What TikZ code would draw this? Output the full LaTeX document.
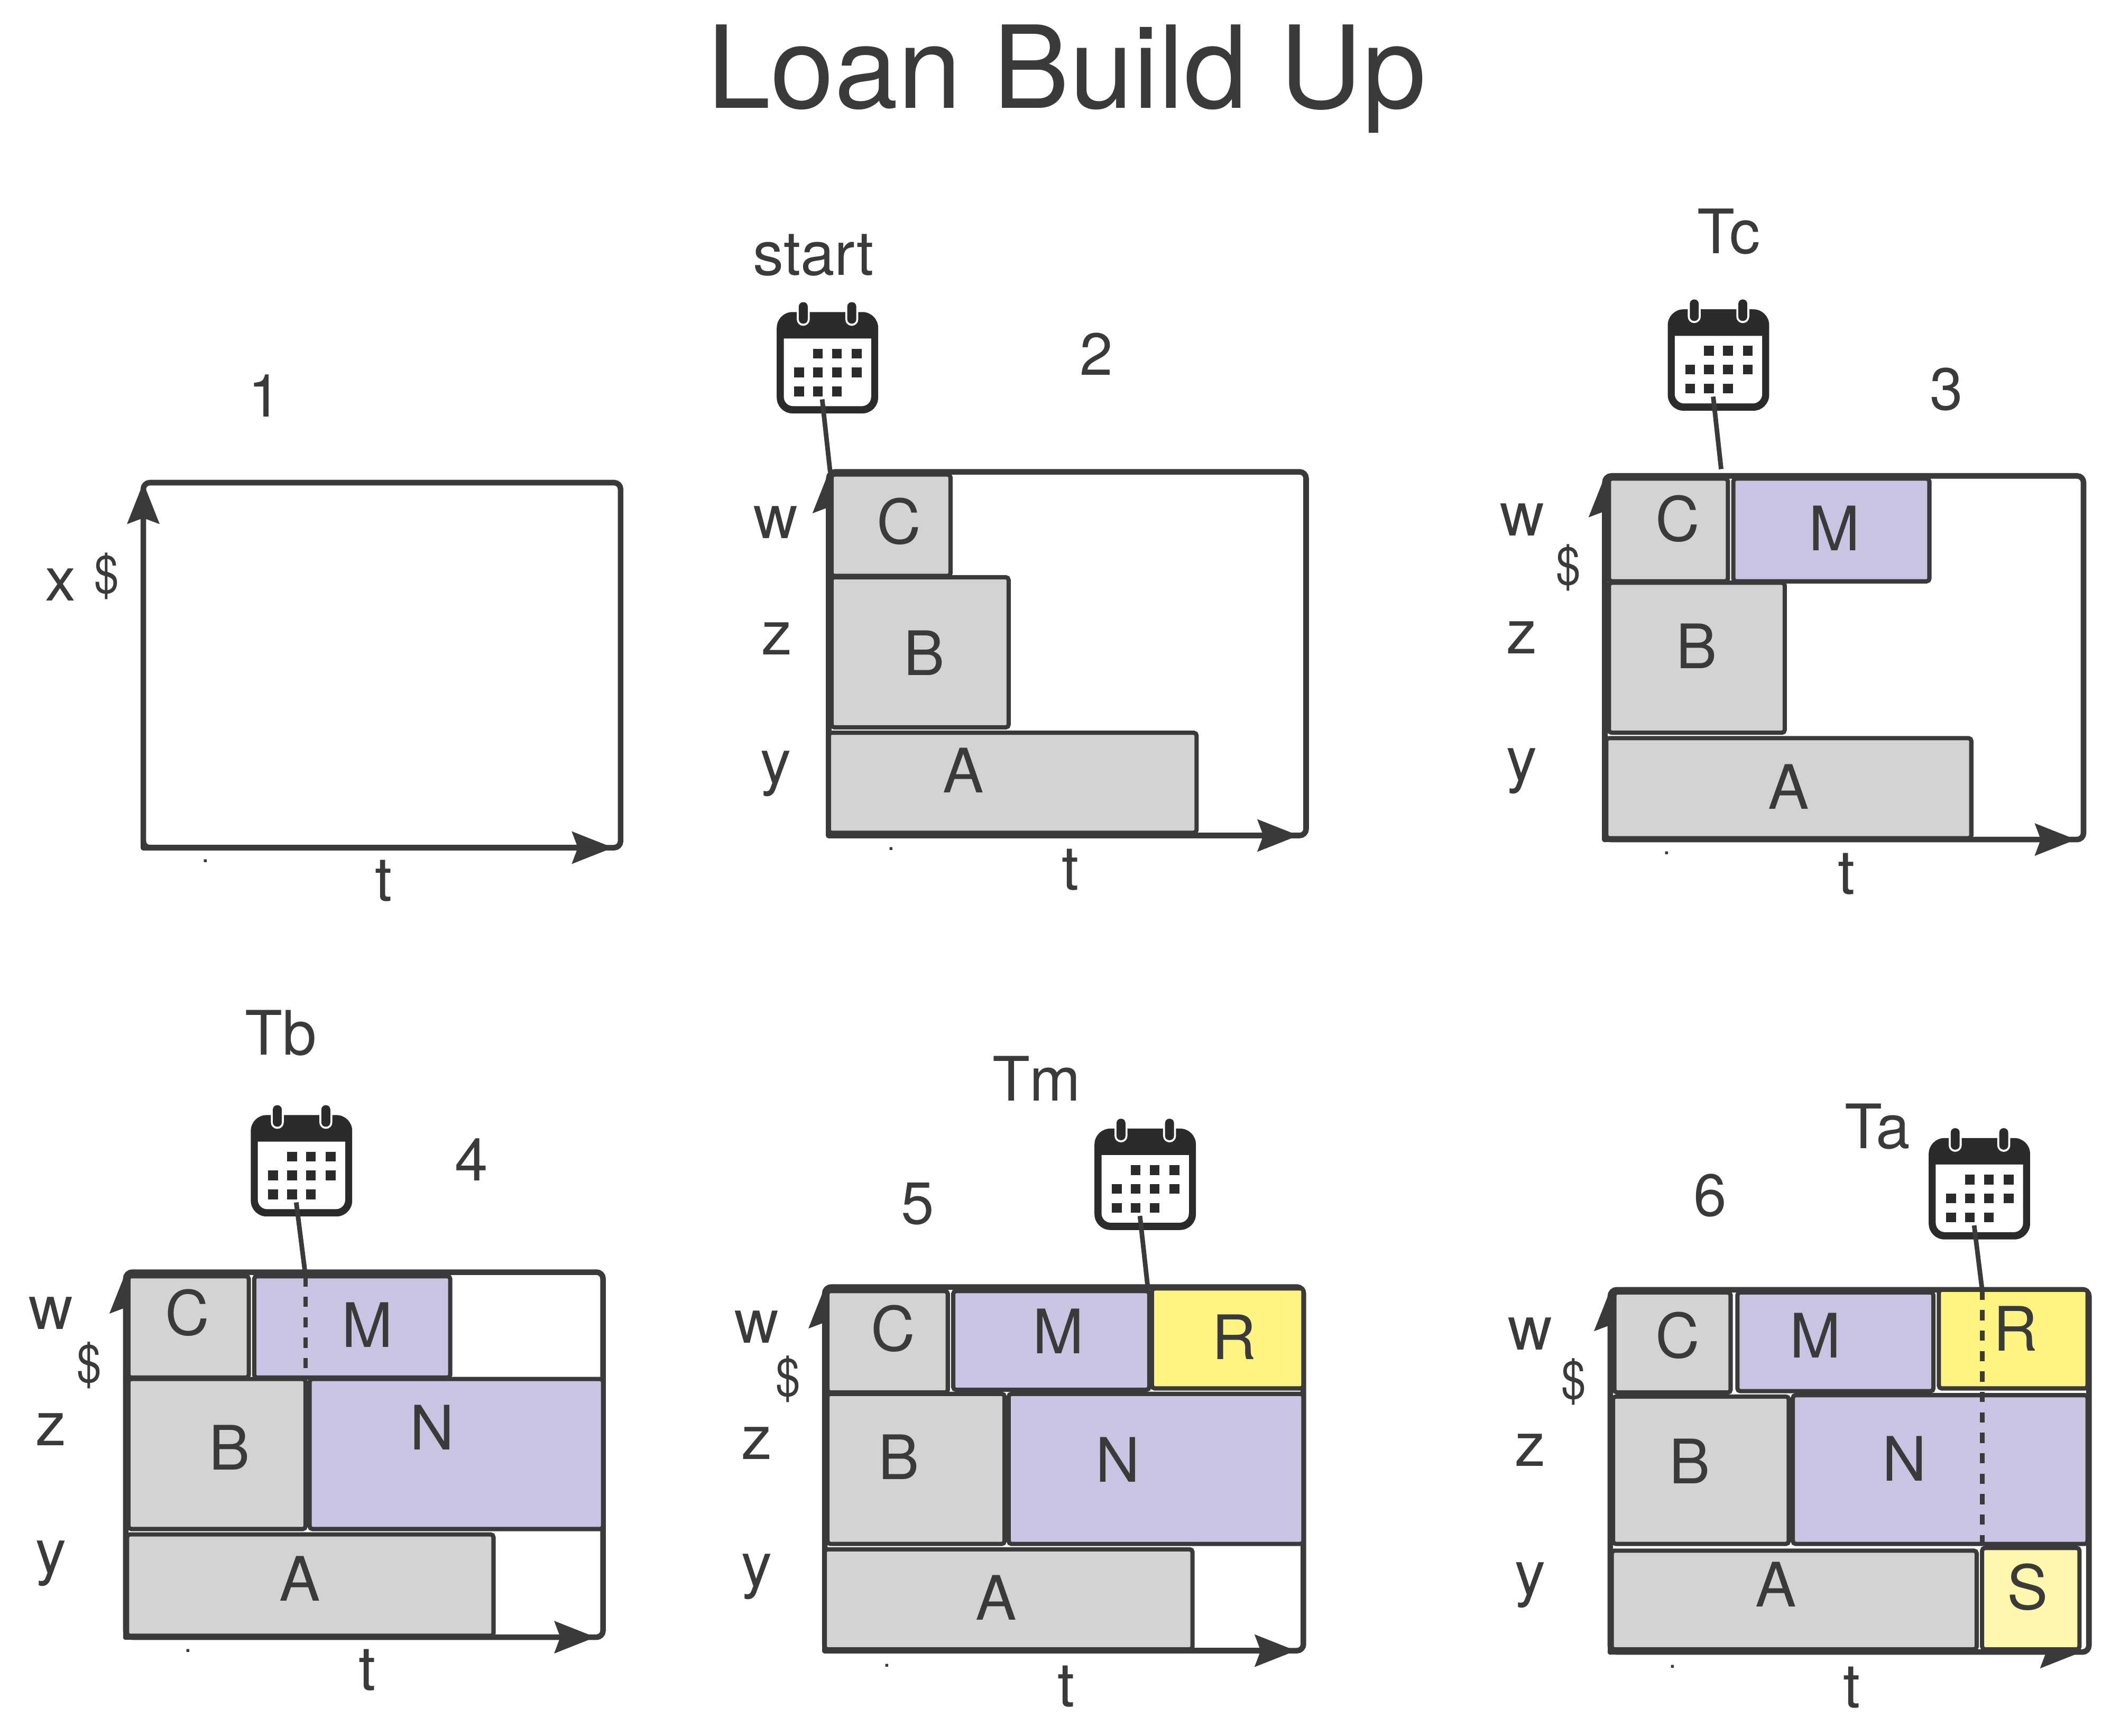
\documentclass[tikz,border=0pt]{standalone}
\usepackage{fontspec}
\setmainfont{TeX Gyre Heros}
\usetikzlibrary{fit,arrows.meta}
\definecolor{ink}{HTML}{3A3A3A}
\definecolor{calink}{HTML}{2B2B2B}
\definecolor{greyb}{HTML}{D1D3D4}
\definecolor{purpb}{HTML}{C8C5E2}
\definecolor{yelb}{HTML}{FFF481}
\definecolor{yelc}{HTML}{FFF8AC}
\tikzset{
  frame/.style={draw=ink,line width=3pt,rounded corners=3.5pt,inner sep=0pt,outer sep=0pt},
  axis/.style={draw=ink,line width=3pt,line cap=round,-{Stealth[length=22pt,width=17pt,inset=3pt]}},
  block/.style={draw=ink,line width=2.3pt,rounded corners=1.5pt,inner sep=0pt,outer sep=0pt},
  grey/.style={block,fill=greyb},
  purp/.style={block,fill=purpb},
  yel/.style={block,fill=yelb},
  yellight/.style={block,fill=yelc},
  txt/.style={anchor=base,inner sep=0pt,text=ink,xshift=0.5pt,yshift=1.2pt,font=\fontsize{33}{36}\selectfont},
  num/.style={txt,font=\fontsize{32}{36}\selectfont},
  money/.style={anchor=center,inner sep=0pt,text=ink,xscale=0.85,transform shape,font=\fontsize{28}{30}\selectfont},
  tick/.style={anchor=base,inner sep=0pt,text=ink,font=\fontsize{15}{16}\selectfont},
  title/.style={anchor=base,inner sep=0pt,text=ink,font=\fontsize{61.6}{66}\selectfont},
  link/.style={draw=ink,line width=2.5pt},
  hidden/.style={draw=ink,line width=2.5pt,dash pattern=on 5.5pt off 5.5pt},
  calendar/.pic={
    \fill[calink,rounded corners=8.5pt] (-37.5,-37.2) rectangle (37.5,37.8);
    \fill[white] (-32.3,-17.6) -- (32.3,-17.6) [rounded corners=5pt] -- (32.3,32.4) -- (-32.3,32.4) [sharp corners] -- cycle;
    \foreach \rx in {-17.9,18}{
      \fill[white,rounded corners=3.5pt] (\rx-4.8,-44.5) rectangle (\rx+4.8,-27);
      \fill[calink,rounded corners=2.3pt] (\rx-3.3,-44.5) rectangle (\rx+3.3,-28.6);
    }
    \foreach \dx/\dy in {-7/-6.5,7/-6.5,21.6/-6.5,-21/7.4,-7/7.4,7/7.4,21.6/7.4,-21/21.5,-7/21.5,7/21.5}{
      \fill[calink] (\dx-3.6,\dy-3.6) rectangle (\dx+3.6,\dy+3.6);
    }
    \coordinate (-tail) at (-3.9,27.4);
  }
}
\newcommand\blk[6]{\node[#1,fit={(#3,#4)(#5,#6)}] (#2) {};}
\newcommand\lbl[5][txt]{\node[#1] (#2) at (#3,#4) {#5};}
\newcommand\axes[5]{%
  \node[frame,fit={(#2,#3)(#4,#5)}] (#1) {};
  \draw[axis] (#1.south west) -- (#1.north west);
  \coordinate (#1h) at ([xshift=-4pt]#1.south east);
  \draw[axis] (#1.south west) -- (#1h);
}
\begin{document}
\begin{tikzpicture}[x=0.02557cm,y=-0.02557cm]
\useasboundingbox (0,0) rectangle (1568,1284);
\lbl[title]{ttl}{789}{80}{Loan Build Up}

% panel 1
\axes{fA}{106}{357}{459}{627}
\lbl[num]{nA}{195}{310}{1}
\lbl{xA}{44}{446}{x}
\lbl[money]{dA}{79}{426}{\$}
\lbl{tA}{283}{668}{t}
\lbl[tick]{kA}{152}{638}{.}

% panel 2
\axes{fB}{613}{349}{966}{618}
\blk{grey}{bC}{615}{351}{703}{426}
\blk{grey}{bB}{615}{427}{746}{538}
\blk{grey}{bA}{613}{542}{885}{616}
\pic (calB) at (612,268) {calendar};
\coordinate (eB) at (614,349);
\draw[link] (calB-tail) -- (eB);
\lbl{sB}{601}{205}{start}
\lbl[num]{nB}{810}{279}{2}
\lbl{wB}{573}{400}{w}
\lbl{zB}{574}{486}{z}
\lbl{yB}{573}{581}{y}
\lbl{tB}{791}{660}{t}
\lbl[tick]{kB}{659}{629}{.}
\lbl{lCB}{664}{404}{C}
\lbl{lBB}{683}{501}{B}
\lbl{lAB}{712}{588}{A}

% panel 3
\axes{fC}{1187}{352}{1541}{621}
\blk{grey}{cC}{1190}{354}{1278}{430}
\blk{purp}{cM}{1282}{354}{1427}{430}
\blk{grey}{cB}{1190}{431}{1320}{542}
\blk{grey}{cA}{1188}{546}{1458}{620}
\pic (calC) at (1271,266) {calendar};
\coordinate (eC) at (1273,347);
\draw[link] (calC-tail) -- (eC);
\lbl{sC}{1278}{189}{Tc}
\lbl[num]{nC}{1439}{305}{3}
\lbl{wC}{1125}{398}{w}
\lbl[money]{dC}{1160}{420}{\$}
\lbl{zC}{1125}{485}{z}
\lbl{yC}{1125}{579}{y}
\lbl{tC}{1365}{663}{t}
\lbl[tick]{kC}{1233}{632}{.}
\lbl{lCC}{1240}{402}{C}
\lbl{lMC}{1356}{409}{M}
\lbl{lBC}{1254}{496}{B}
\lbl{lAC}{1322}{600}{A}

% panel 4
\axes{fD}{93}{941}{446}{1211}
\blk{grey}{dC}{95}{944}{184}{1019}
\blk{purp}{dM}{188}{944}{333}{1019}
\blk{grey}{dB}{95}{1020}{226}{1131}
\blk{purp}{dN}{229}{1020}{446}{1131}
\blk{grey}{dAb}{94}{1135}{365}{1210}
\pic (calD) at (223,862) {calendar};
\coordinate (eD) at (226,944);
\coordinate (gD) at (226,1020);
\draw[link] (calD-tail) -- (eD);
\draw[hidden] (eD) -- (gD);
\lbl{sD}{207}{782}{Tb}
\lbl[num]{nD}{348}{875}{4}
\lbl{wD}{37}{985}{w}
\lbl[money]{dD}{66}{1010}{\$}
\lbl{zD}{37}{1071}{z}
\lbl{yD}{37}{1165}{y}
\lbl{tD}{271}{1252}{t}
\lbl[tick]{kD}{139}{1222}{.}
\lbl{lCD}{138}{989}{C}
\lbl{lMD}{271}{998}{M}
\lbl{lBD}{169}{1089}{B}
\lbl{lND}{319}{1074}{N}
\lbl{lAD}{221}{1186}{A}

% panel 5
\axes{fE}{610}{952}{964}{1221}
\blk{grey}{eCb}{612}{955}{701}{1030}
\blk{purp}{eMb}{705}{955}{850}{1028}
\blk{yel}{eRb}{852}{953}{964}{1027}
\blk{grey}{eBb}{612}{1031}{743}{1142}
\blk{purp}{eNb}{746}{1031}{964}{1142}
\blk{grey}{eAb}{610}{1146}{882}{1220}
\pic (calE) at (847,872) {calendar};
\coordinate (eE) at (849,953);
\draw[link] (calE-tail) -- (eE);
\lbl{sE}{766}{816}{Tm}
\lbl[num]{nE}{678}{907}{5}
\lbl{wE}{559}{995}{w}
\lbl[money]{dE}{583}{1020}{\$}
\lbl{zE}{559}{1081}{z}
\lbl{yE}{559}{1175}{y}
\lbl{tE}{788}{1264}{t}
\lbl[tick]{kE}{656}{1233}{.}
\lbl{lCE}{660}{1001}{C}
\lbl{lME}{782}{1003}{M}
\lbl{lRE}{912}{1007}{R}
\lbl{lBE}{664}{1096}{B}
\lbl{lNE}{826}{1098}{N}
\lbl{lAE}{736}{1200}{A}

% panel 6
\axes{fF}{1191}{954}{1545}{1222}
\blk{grey}{fCb}{1194}{956}{1280}{1030}
\blk{purp}{fMb}{1285}{956}{1430}{1029}
\blk{yel}{fRb}{1434}{954}{1544}{1027}
\blk{grey}{fBb}{1193}{1033}{1323}{1142}
\blk{purp}{fNb}{1326}{1032}{1544}{1142}
\blk{grey}{fAb}{1192}{1147}{1462}{1220}
\blk{yellight}{fSb}{1466}{1145}{1538}{1220}
\pic (calF) at (1464,879) {calendar};
\coordinate (eF) at (1466,954);
\coordinate (gF) at (1466,1142);
\draw[link] (calF-tail) -- (eF);
\draw[hidden] (eF) -- (gF);
\lbl{sF}{1388}{851}{Ta}
\lbl[num]{nF}{1264}{901}{6}
\lbl{wF}{1131}{1000}{w}
\lbl[money]{dF}{1164}{1022}{\$}
\lbl{zF}{1131}{1086}{z}
\lbl{yF}{1131}{1181}{y}
\lbl{tF}{1369}{1265}{t}
\lbl[tick]{kF}{1237}{1234}{.}
\lbl{lCF}{1240}{1006}{C}
\lbl{lMF}{1342}{1006}{M}
\lbl{lRF}{1490}{1001}{R}
\lbl{lBF}{1249}{1099}{B}
\lbl{lNF}{1408}{1097}{N}
\lbl{lAF}{1313}{1190}{A}
\lbl{lSF}{1499}{1192}{S}
\end{tikzpicture}
\end{document}
